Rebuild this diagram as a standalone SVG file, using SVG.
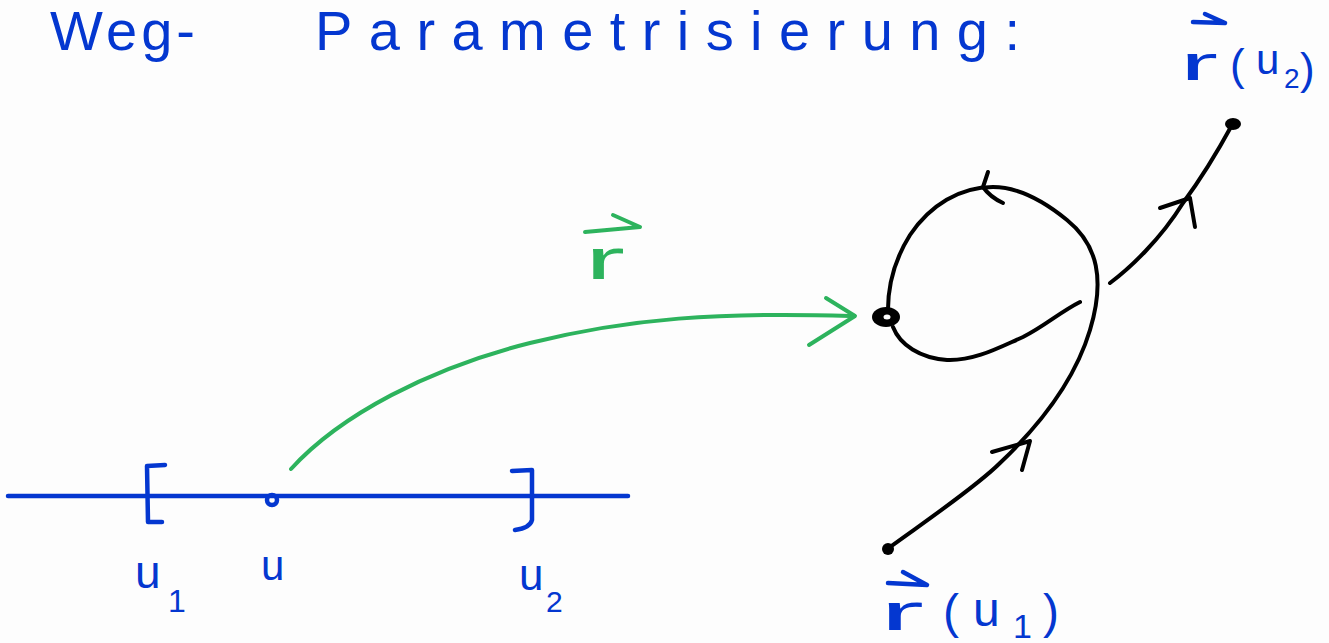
<svg xmlns="http://www.w3.org/2000/svg" width="1329" height="643" viewBox="0 0 1329 643">
<style>
.blue{fill:#0437d0;font-family:"Liberation Sans",Arial,sans-serif}
.green{fill:#2db35d;font-family:"Liberation Sans",Arial,sans-serif}
.bs{fill:none;stroke:#0437d0;stroke-width:4.5;stroke-linecap:round;stroke-linejoin:round}
.gs{fill:none;stroke:#2db35d;stroke-width:4;stroke-linecap:round;stroke-linejoin:round}
.ks{fill:none;stroke:#000;stroke-width:4;stroke-linecap:round;stroke-linejoin:round}
</style>
<rect width="1329" height="643" fill="#fdfdfd"/>
<g id="title">
<text class="blue" x="50" y="50" font-size="56" textLength="145" lengthAdjust="spacing">Weg-</text>
<text class="blue" x="315" y="50" font-size="56" textLength="705" lengthAdjust="spacing">Parametrisierung:</text>
</g>
<g id="interval">
<path class="bs" d="M8,496 L628,496"/>
<path class="bs" d="M165,465 L147,466 L148,522 L162,522"/>
<path class="bs" d="M512,471 L532,470 L532,520 Q530,528 515,530"/>
<text class="blue" x="135" y="588" font-size="46">u</text>
<text class="blue" x="168" y="612" font-size="32">1</text>
<text class="blue" x="519" y="590" font-size="44">u</text>
<text class="blue" x="546" y="612" font-size="30">2</text>
</g>
<g id="point-u">
<circle cx="272" cy="500" r="5" fill="none" stroke="#0437d0" stroke-width="4.5"/>
<text class="blue" x="261" y="580" font-size="42">u</text>
</g>
<g id="connectors">
<path class="gs" d="M291,469 C340,415 430,368 530,343 C630,318 720,312 850,316"/>
<path class="gs" d="M826,298 L855,316 L809,345"/>
</g>
<g id="map-label">
<path class="gs" d="M585,232 L640,227 M613,215 L640,227"/>
<text class="green" x="585" y="279" font-size="58" textLength="40" lengthAdjust="spacingAndGlyphs">r</text>
</g>
<g id="curve">
<path class="ks" d="M890,547 C920,525 975,488 1000,463 C1040,425 1075,380 1090,330 C1105,280 1098,245 1067,220 C1040,198 1015,187 993,187 C960,187 930,205 910,235 C893,262 887,290 888,317"/>
<path class="ks" d="M893,327 C900,345 920,358 947,360 C975,361 1000,347 1023,337 C1045,326 1060,312 1080,302"/>
<path class="ks" d="M1110,283 C1130,268 1160,240 1183,203 C1200,180 1213,160 1232,125"/>
<path class="ks" d="M992,452 L1030,441 L1022,470"/>
<path class="ks" d="M988,172 L983,187 Q990,197 1003,203"/>
<path class="ks" d="M1160,208 L1190,198 L1195,227"/>
<ellipse cx="886" cy="317" rx="14" ry="10" fill="#000"/>
<ellipse cx="887" cy="317" rx="3.5" ry="2.5" fill="#fdfdfd"/>
<circle cx="888" cy="549" r="6" fill="#000"/>
<ellipse cx="1233" cy="124" rx="8" ry="6" fill="#000"/>
</g>
<g id="label-r-u1">
<path class="bs" d="M888,583 L927,585 M903,572 L927,585"/>
<text class="blue" x="880" y="630" font-size="52" textLength="44" lengthAdjust="spacingAndGlyphs">r</text>
<text class="blue" x="943" y="628" font-size="48">(</text>
<text class="blue" x="973" y="626" font-size="48">u</text>
<text class="blue" x="1013" y="638" font-size="34">1</text>
<text class="blue" x="1043" y="628" font-size="48">)</text>
</g>
<g id="label-r-u2">
<path class="bs" d="M1193,22 L1225,23 M1205,14 L1225,23"/>
<text class="blue" x="1180" y="80" font-size="48" textLength="38" lengthAdjust="spacingAndGlyphs">r</text>
<text class="blue" x="1230" y="80" font-size="44">(</text>
<text class="blue" x="1256" y="74" font-size="42">u</text>
<text class="blue" x="1284" y="88" font-size="28">2</text>
<text class="blue" x="1300" y="84" font-size="44">)</text>
</g>
</svg>
